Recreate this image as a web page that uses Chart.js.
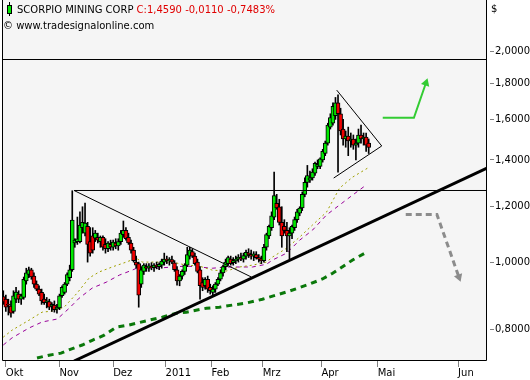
<!DOCTYPE html>
<html>
<head>
<meta charset="utf-8">
<script src="https://cdn.jsdelivr.net/npm/chart.js@4.4.0/dist/chart.umd.min.js"></script>
<style>
  body { margin: 0; background: #fff; }
  #wrap { position: relative; width: 530px; height: 380px; font-family: "DejaVu Sans", sans-serif; font-size: 10px; color: #000; }
  #wrap canvas { position: absolute; left: 0; top: 0; }
  .txt { position: absolute; white-space: nowrap; line-height: 12px; }
  .wick { position: absolute; left: 9px; top: 2px; width: 1px; height: 14px; background: #000; }
  .body { position: absolute; left: 7px; top: 5px; width: 3px; height: 7px; background: #00e800; border: 1px solid #000; }
</style>
</head>
<body>
<div id="wrap">
  <canvas id="chart" width="530" height="380"></canvas>
  <div class="wick"></div><div class="body"></div>
  <div class="txt" style="left:17px;top:4px">SCORPIO MINING CORP <span style="color:#e00000">C:1,4590 -0,0110 -0,7483%</span></div>
  <div class="txt" style="left:3px;top:20px">© www.tradesignalonline.com</div>
  <div class="txt" style="left:491px;top:3px">$</div>
</div>
<script>
// daily candles, one per bar slot (Okt 2010 .. Apr 2011)
const opens = [
  .893,.885,.87,.865,.85,.885,.9,.885,.89,.94,
  .96,.975,.955,.93,.915,.905,.885,.875,.878,.865,
  .868,.857,.86,.895,.905,.93,.95,.975,1.065,1.07,
  1.07,1.12,1.10,1.125,1.07,1.09,1.082,1.085,1.07,1.085,
  1.06,1.045,1.06,1.05,1.065,1.055,1.07,1.095,1.11,1.085,
  1.065,1.04,1.0,.995,.93,.97,.985,.98,.985,.982,
  .99,.985,.99,1.0,1.01,1.005,1.008,.998,.975,.94,
  .955,.97,.99,1.02,1.035,1.02,1.0,.975,.935,.925,
  .945,.92,.905,.915,.93,.945,.965,.985,.995,1.01,
  .998,1.005,1.01,1.015,1.01,1.02,1.03,1.025,1.02,1.025,
  1.015,1.01,1.005,1.05,1.09,1.12,1.16,1.214,1.2,1.14,
  1.125,1.11,1.09,1.1,1.12,1.15,1.175,1.195,1.25,1.3,
  1.31,1.32,1.34,1.37,1.37,1.4,1.43,1.48,1.56,1.58,
  1.62,1.69,1.63,1.55,1.5,1.515,1.49,1.5,1.47,1.48,
  1.52,1.5,1.51,1.48
];
const highs = [
  .91,.897,.885,.88,.91,.92,.91,.9,.952,.98,
  .984,.98,.965,.94,.925,.915,.9,.89,.885,.875,
  .88,.87,.9,.925,.935,.965,.99,1.265,1.08,1.16,
  1.18,1.2,1.215,1.14,1.12,1.12,1.11,1.1,1.09,1.09,
  1.08,1.07,1.075,1.075,1.08,1.08,1.11,1.145,1.12,1.1,
  1.075,1.05,1.02,1.0,.985,.995,.995,.995,.998,.995,
  1.0,.998,1.01,1.03,1.02,1.015,1.02,1.005,.985,.96,
  .975,.995,1.05,1.05,1.045,1.03,1.01,.985,.95,.95,
  .955,.93,.925,.935,.95,.975,.99,1.01,1.02,1.02,
  1.015,1.02,1.025,1.03,1.03,1.04,1.045,1.04,1.035,1.035,
  1.025,1.02,1.06,1.1,1.13,1.18,1.345,1.25,1.23,1.2,
  1.15,1.14,1.12,1.13,1.16,1.19,1.2,1.26,1.32,1.375,
  1.35,1.36,1.39,1.4,1.41,1.45,1.49,1.58,1.63,1.69,
  1.72,1.735,1.66,1.6,1.54,1.56,1.53,1.52,1.5,1.55,
  1.57,1.53,1.53,1.5
];
const lows = [
  .87,.85,.84,.834,.845,.875,.875,.87,.885,.93,
  .95,.945,.92,.91,.895,.87,.87,.86,.855,.85,
  .848,.845,.855,.89,.9,.925,.94,.97,1.05,1.06,
  1.065,1.1,1.09,1.0,1.02,1.03,1.07,1.065,1.05,1.04,
  1.03,1.035,1.04,1.04,1.045,1.04,1.06,1.085,1.075,1.06,
  1.03,1.0,.98,.862,.92,.96,.97,.97,.975,.97,
  .978,.975,.98,.99,.995,.99,.995,.97,.927,.925,
  .945,.96,.985,1.01,1.015,.99,.965,.885,.91,.915,
  .905,.9,.895,.905,.925,.94,.955,.975,.99,.99,
  .99,.995,1.0,1.005,1.0,1.01,1.015,1.01,1.005,1.01,
  1.0,.995,1.0,1.04,1.08,1.11,1.15,1.19,1.13,1.05,
  1.1,1.035,1.01,1.08,1.11,1.14,1.165,1.185,1.24,1.28,
  1.3,1.31,1.33,1.36,1.36,1.39,1.42,1.47,1.55,1.57,
  1.6,1.345,1.52,1.47,1.46,1.42,1.46,1.45,1.4,1.46,
  1.48,1.47,1.44,1.43
];
const closes = [
  .877,.862,.868,.845,.895,.906,.885,.895,.945,.965,
  .975,.952,.93,.915,.9,.88,.875,.88,.862,.87,
  .855,.862,.895,.92,.93,.96,.975,1.148,1.075,1.08,
  1.13,1.14,1.137,1.06,1.03,1.04,1.1,1.075,1.085,1.05,
  1.045,1.065,1.05,1.068,1.055,1.07,1.1,1.11,1.08,1.065,
  1.04,1.005,.99,.897,.975,.99,.98,.988,.982,.99,
  .985,.993,1.003,1.01,1.005,1.008,1.0,.975,.94,.955,
  .97,.99,1.025,1.04,1.02,.995,.97,.925,.92,.945,
  .915,.91,.915,.93,.945,.965,.985,1.0,1.015,.995,
  1.005,1.01,1.017,1.01,1.022,1.033,1.025,1.02,1.028,1.015,
  1.01,1.005,1.05,1.095,1.125,1.165,1.245,1.195,1.14,1.09,
  1.11,1.09,1.1,1.125,1.15,1.18,1.195,1.25,1.3,1.33,
  1.32,1.345,1.385,1.38,1.405,1.44,1.48,1.57,1.61,1.67,
  1.69,1.63,1.54,1.5,1.515,1.49,1.5,1.47,1.48,1.52,
  1.5,1.51,1.47,1.459
];

// moving averages, read at bar slots
const maFastX = [0, 3.4, 10.1, 15.2, 19.1, 23.8, 28.9, 33.6, 37.5, 42.6, 48.1, 52, 54.4, 59.9, 66.2, 71.6, 76.7, 81.8, 87.3, 92.4, 97.5, 103, 105.4, 110.9, 116, 121, 126.5, 131.6, 136.7, 142.6];
const maFastY = [.781, .799, .826, .848, .851, .862, .903, .949, .968, .984, 1.0, 1.013, 1.0, 1.0, 1.0, .99, .987, .974, .971, .984, .99, 1.0, 1.017, 1.047, 1.086, 1.13, 1.179, 1.276, 1.323, 1.363];
const maMidX = [0, 3.4, 10.1, 15.2, 21.1, 25.8, 29.7, 34.8, 40.3, 45.4, 50.5, 53.2, 59.9, 66.2, 71.6, 76.7, 81.8, 87.3, 92.4, 97.5, 103, 105.4, 110.9, 116, 121, 126.5, 131.6, 136.7, 141.5];
const maMidY = [.761, .779, .805, .821, .829, .859, .888, .918, .936, .958, .974, .984, .98, .984, .987, .984, .98, .984, .984, .984, .993, 1.007, 1.03, 1.075, 1.111, 1.168, 1.207, 1.247, 1.285];
const maSlowX = [13.2, 17.9, 22.6, 26.5, 30.9, 34.8, 39.5, 44.2, 49.3, 57.1, 62.2, 67.7, 71.6, 79.5, 84.6, 89.7, 95.2, 101.4, 112, 119.8, 124.9, 128.9, 136.7, 141.5];
const maSlowY = [.729, .736, .741, .751, .761, .773, .786, .807, .813, .826, .834, .845, .848, .859, .862, .868, .874, .885, .909, .93, .946, .964, 1.007, 1.03];

// drawn trendlines and arrows (bar slot, price)
const topLineX = [-0.5, 189.3],        topLineY = [1.949, 1.949];
const breakLineX = [27.7, 189.3],      breakLineY = [1.266, 1.266];
const downTrendX = [27.7, 97.1],       downTrendY = [1.266, 0.952];
const upTrendX = [27.7, 189.3],        upTrendY = [0.722, 1.363];
const triangleX = [130.5, 148.1, 129.3], triangleY = [1.762, 1.466, 1.319];
const upArrowX = [148.5, 160.7, 165.4],  upArrowY = [1.609, 1.609, 1.804];
const downArrowX = [157.5, 169.7, 178.3], downArrowY = [1.170, 1.170, 0.952];

const monthTicks = [1, 22, 43, 63.5, 81.5, 101.5, 124.5, 146.5, 178];
const monthLabels = ['Okt', 'Nov', 'Dez', '2011', 'Feb', 'Mrz', 'Apr', 'Mai', 'Jun'];
const priceTicks = [0.8, 1.0, 1.2, 1.4, 1.6, 1.8, 2.0];

const pts = (xs, ys) => xs.map((x, i) => ({x: x, y: ys[i]}));

const wicks = lows.map((l, i) => ({x: i, y: [l, highs[i]]}));
const bodies = opens.map((o, i) => ({x: i, y: [Math.min(o, closes[i]), Math.max(o, closes[i])]}));
const bodyColors = opens.map((o, i) => closes[i] >= o ? '#00e800' : '#f00000');

function line(xs, ys, color, width, dash, order) {
  return {
    type: 'line', data: pts(xs, ys), borderColor: color, borderWidth: width,
    borderDash: dash || [], pointRadius: 0, tension: 0, fill: false, order: order
  };
}

Chart.defaults.font.family = '"DejaVu Sans", sans-serif';
Chart.defaults.font.size = 10;
Chart.defaults.color = '#000';

const frame = {
  id: 'frame',
  beforeDraw(chart) {
    const {ctx, chartArea: a} = chart;
    ctx.save();
    ctx.fillStyle = '#f5f5f5';
    ctx.fillRect(a.left, a.top, a.right - a.left, a.bottom - a.top);
    ctx.restore();
  },
  afterDraw(chart) {
    const {ctx, chartArea: a} = chart;
    ctx.save();
    ctx.strokeStyle = '#000';
    ctx.lineWidth = 1;
    ctx.beginPath();
    ctx.moveTo(a.left + 0.5, a.top);
    ctx.lineTo(a.left + 0.5, a.bottom - 0.5);
    ctx.lineTo(a.right - 0.5, a.bottom - 0.5);
    ctx.lineTo(a.right - 0.5, a.top);
    ctx.stroke();
    ctx.restore();
  }
};

const upArrow = line(upArrowX, upArrowY, '#33cc33', 2, null, 1);
upArrow.pointRadius = [0, 0, 5];
upArrow.pointStyle = 'triangle';
upArrow.pointRotation = 19;
upArrow.pointBackgroundColor = '#33cc33';
upArrow.pointBorderWidth = 0;

const downArrow = line(downArrowX, downArrowY, '#8c8c8c', 3, [6, 4], 1);
downArrow.pointRadius = [0, 0, 5];
downArrow.pointStyle = 'triangle';
downArrow.pointRotation = 160;
downArrow.pointBackgroundColor = '#8c8c8c';
downArrow.pointBorderWidth = 0;

new Chart(document.getElementById('chart'), {
  type: 'bar',
  data: {
    datasets: [
      line(topLineX, topLineY, '#000', 1, null, 0),
      line(breakLineX, breakLineY, '#000', 1, null, 0),
      line(downTrendX, downTrendY, '#000', 1, null, 0),
      line(upTrendX, upTrendY, '#000', 3, null, 0),
      line(triangleX, triangleY, '#000', 1, null, 0),
      upArrow,
      downArrow,
      { data: bodies, backgroundColor: bodyColors, borderColor: '#000', borderWidth: 1,
        borderSkipped: false, barThickness: 4, grouped: false, order: 5 },
      { data: wicks, backgroundColor: '#000', borderWidth: 0, barThickness: 1, grouped: false, order: 6 },
      line(maFastX, maFastY, '#a0a000', 1, [2, 3], 7),
      line(maMidX, maMidY, '#990099', 1, [4, 4], 8),
      line(maSlowX, maSlowY, '#0a780a', 3, [6, 5], 9)
    ]
  },
  options: {
    responsive: false,
    animation: false,
    layout: { autoPadding: false, padding: { left: 2, top: 0, right: 0, bottom: 0 } },
    plugins: { legend: { display: false }, tooltip: { enabled: false } },
    scales: {
      x: {
        type: 'linear', bounds: 'data', min: -0.5, max: 189.3, offset: false,
        grid: { offset: false, drawOnChartArea: false, tickLength: 6, tickColor: '#808080' },
        border: { display: false },
        afterBuildTicks: s => { s.ticks = monthTicks.map(v => ({value: v})); },
        afterFit: s => { s.height = 19; s.paddingLeft = 0; s.paddingRight = 0; },
        ticks: { autoSkip: false, maxRotation: 0, align: 'start', padding: 0,
                 callback: (v, i) => monthLabels[i] }
      },
      y: {
        type: 'logarithmic', bounds: 'data', beginAtZero: false, min: 0.722, max: 2.371,
        position: 'right',
        grid: { drawOnChartArea: false, tickLength: 7, tickColor: '#808080', tickBorderDash: [0, 3, 4, 100] },
        border: { display: false },
        afterBuildTicks: s => { s.ticks = priceTicks.map(v => ({value: v})); },
        afterFit: s => { s.width = 43; s.paddingTop = 0; s.paddingBottom = 0; },
        ticks: { padding: 1, callback: v => v.toFixed(4).replace('.', ',') }
      }
    }
  },
  plugins: [frame]
});
</script>
</body>
</html>
